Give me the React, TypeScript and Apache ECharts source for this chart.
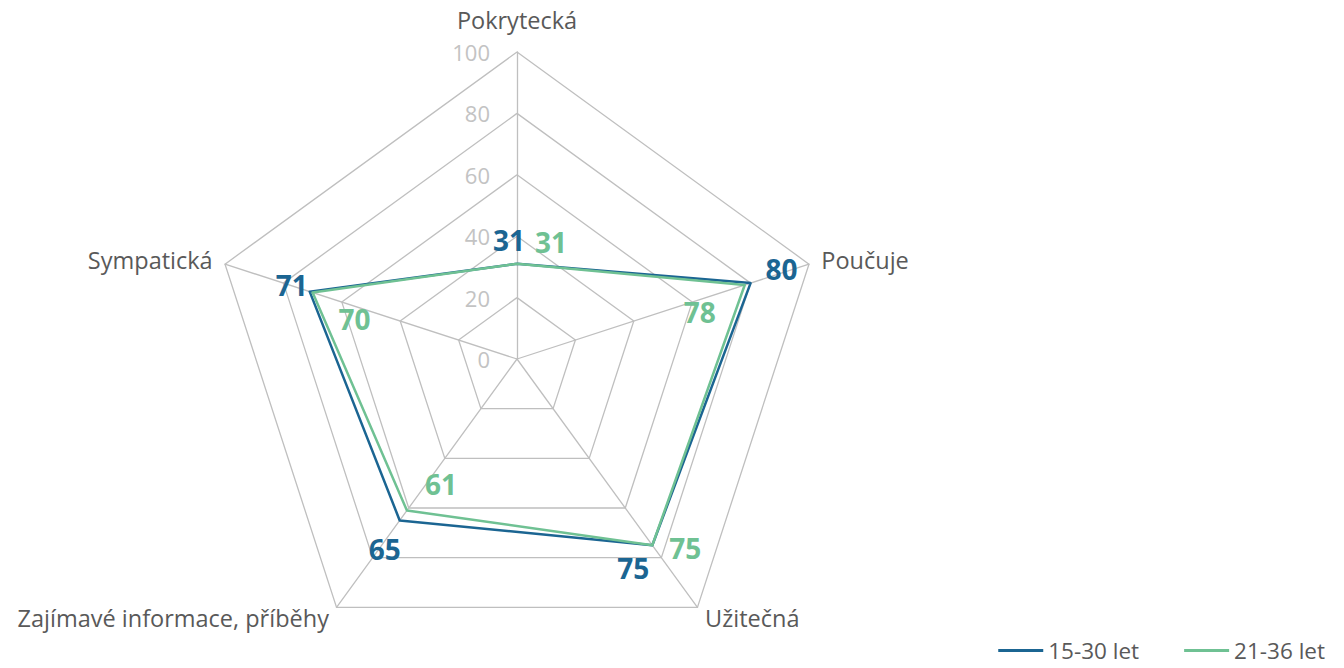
import React, { useEffect, useRef } from "react";
import * as echarts from "echarts";

const indicators = ["Pokrytecká", "Poučuje", "Užitečná", "Zajímavé informace, příběhy", "Sympatická"];
const seriesNames = ["15-30 let", "21-36 let"];
const values1 = [31, 80, 75, 65, 71];
const values2 = [31, 78, 75, 61, 70];
const colors = ["#1b6592", "#6fc193"];
// label offsets (px) relative to each vertex point, per series (in indicator order)
const offsets1 = [[-8, -24], [31, -14], [-19, 23], [-15, 29], [-18, -7]];
const offsets2 = [[34, -22], [-45, 27], [33, 3], [34, -27], [42, 26]];

// ECharts lays indicators counter-clockwise; reorder so they run clockwise
const order = [0, 4, 3, 2, 1];

const FONT = "'Open Sans', sans-serif";

export default function App() {
  const ref = useRef<HTMLDivElement>(null);
  useEffect(() => {
    const chart = echarts.init(ref.current!, undefined, { renderer: "svg" });
    const reorder = (arr: any[]) => order.map((i) => arr[i]);
    const labelItems = (vals: number[], offs: number[][], color: string, tag: string) =>
      vals.map((v, k) => ({
        name: tag + "-" + k,
        value: reorder(vals),
        symbol: "circle",
        symbolSize: 1,
        itemStyle: { color: "rgba(0,0,0,0)" },
        lineStyle: { opacity: 0, width: 0 },
        label: {
          show: true,
          position: "inside",
          offset: offs[k],
          color,
          fontSize: 28,
          fontWeight: "bold",
          fontFamily: FONT,
          formatter: (p: any) => (p.value === v ? String(p.value) : ""),
        },
      }));
    chart.setOption({
      animation: false,
      legend: {
        data: seriesNames,
        right: 19,
        bottom: 6,
        padding: 0,
        icon: "rect",
        itemWidth: 45,
        itemHeight: 3,
        itemGap: 45,
        textStyle: { color: "#595959", fontSize: 22.5, lineHeight: 23, fontFamily: FONT },
      },
      radar: {
        center: [517, 359],
        radius: 307,
        shape: "polygon",
        splitNumber: 5,
        startAngle: 90,
        nameGap: 13,
        axisName: { color: "#595959", fontSize: 23.5, fontFamily: FONT },
        axisLine: { lineStyle: { color: "#bfbfbf", width: 1.3 } },
        splitLine: { lineStyle: { color: "#bfbfbf", width: 1.3 } },
        splitArea: { show: false },
        axisTick: { show: false },
        axisLabel: { show: false },
        indicator: reorder(indicators).map((n: string, i: number) => ({
          name: n,
          min: 0,
          max: 100,
          ...(i === 0
            ? {
                nameGap: 20,
                axisLabel: {
                  show: true,
                  color: "#c3c3c3",
                  fontSize: 22,
                  fontFamily: FONT,
                  margin: 27,
                  showMinLabel: true,
                  showMaxLabel: true,
                },
              }
            : {}),
        })),
      },
      series: [
        {
          type: "radar",
          data: [
            {
              name: seriesNames[0],
              value: reorder(values1),
              symbol: "none",
              itemStyle: { color: colors[0] },
              lineStyle: { color: colors[0], width: 2.5 },
            },
            {
              name: seriesNames[1],
              value: reorder(values2),
              symbol: "none",
              itemStyle: { color: colors[1] },
              lineStyle: { color: colors[1], width: 2.5 },
            },
            ...labelItems(values1, offsets1, colors[0], "a"),
            ...labelItems(values2, offsets2, colors[1], "b"),
          ],
        },
      ],
    });
    return () => chart.dispose();
  }, []);
  return (
    <div
      ref={ref}
      style={{ position: "fixed", left: 0, top: 0, width: 1344, height: 668, background: "#fff" }}
    />
  );
}
